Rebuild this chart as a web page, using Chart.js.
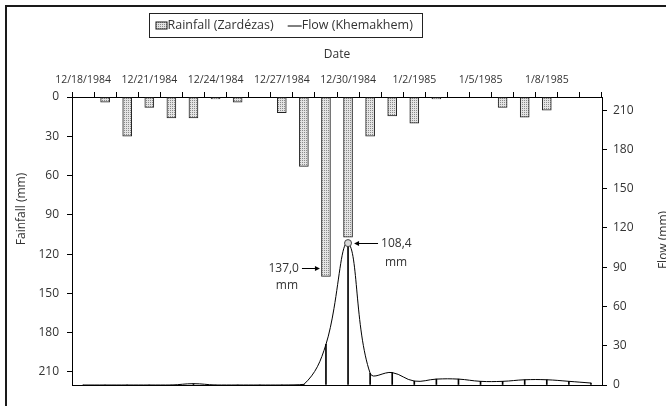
<!DOCTYPE html>
<html><head><meta charset="utf-8">
<script src="https://cdn.jsdelivr.net/npm/chart.js@4"></script>
<style>
html,body{margin:0;padding:0;background:#fff;overflow:hidden;}
#wrap{position:relative;width:666px;height:406px;overflow:hidden;}
#frame{position:absolute;left:5px;top:5px;width:700px;height:500px;border-top:2px solid #1a1a1a;border-left:2px solid #1a1a1a;pointer-events:none;}
canvas{position:absolute;left:0;top:0;}
</style></head><body>
<div id="wrap"><canvas id="c" width="666" height="406"></canvas><div id="frame"></div></div>
<script>
// ---- data ----
const categories = ['12/18/1984','12/19/1984','12/20/1984','12/21/1984','12/22/1984','12/23/1984','12/24/1984','12/25/1984','12/26/1984','12/27/1984','12/28/1984','12/29/1984','12/30/1984','12/31/1984','1/1/1985','1/2/1985','1/3/1985','1/4/1985','1/5/1985','1/6/1985','1/7/1985','1/8/1985','1/9/1985','1/10/1985'];
const rainfall = [0,4,30,8,16,16,1.5,4,0,12,53,137,107,30,14.5,20,1.5,0,0,8,15.5,10,0,0];
const flow = [0,0,0,0,0,1,0,0,0,0,0.5,31,108.4,9,9.5,3,4.5,4.5,2.8,2.8,4,4,2.8,1.5];
const xTickLabels = ['12/18/1984','12/21/1984','12/24/1984','12/27/1984','12/30/1984','1/2/1985','1/5/1985','1/8/1985'];
const yTicks = [0,30,60,90,120,150,180,210];
const seriesNames = ['Rainfall (Zardézas)','Flow (Khemakhem)'];
const axisTitles = {x:'Date', y:'Fainfall (mm)', y2:'Flow (mm)'};

const FONT = "'Open Sans', 'DejaVu Sans', sans-serif";
const TXT = '#333';
const canvas = document.getElementById('c');
const ctx0 = canvas.getContext('2d');

function makePattern(){
  const p = document.createElement('canvas'); p.width = 2; p.height = 2;
  const g = p.getContext('2d');
  g.fillStyle = '#e4e4e4'; g.fillRect(0,0,2,2);
  g.fillStyle = '#8a8a8a'; g.fillRect(0,0,1,1);
  return ctx0.createPattern(p,'repeat');
}
const pattern = makePattern();
const peakIndex = flow.indexOf(Math.max(...flow));
const fmt = v => v.toFixed(1).replace('.', ',');

function keepTicks(scale){ scale.ticks = yTicks.map(v => ({ value: v })); }

const decor = {
  id: 'decor',
  afterDraw(chart){
    const c = chart.ctx;
    c.save();
    // legend
    c.font = '12.5px ' + FONT;
    const w1 = c.measureText(seriesNames[0]).width, w2 = c.measureText(seriesNames[1]).width;
    const boxW = 6 + 12 + w1 + 14 + 14 + w2 + 10;
    const bx = Math.round(286 - boxW/2) + 0.5, by = 13.5, bh = 24;
    c.strokeStyle = '#222'; c.lineWidth = 1;
    c.strokeRect(bx, by, Math.round(boxW), bh);
    const cy = by + bh/2;
    let x = bx + 6;
    c.fillStyle = pattern; c.fillRect(x, cy-4, 12, 8);
    c.strokeStyle = '#222'; c.strokeRect(x+0.5, cy-3.5, 11, 7);
    x += 12;
    c.fillStyle = TXT; c.textBaseline = 'middle'; c.textAlign = 'left';
    c.fillText(seriesNames[0], x, cy);
    x += w1 + 14;
    c.beginPath(); c.moveTo(x, cy+0.5); c.lineTo(x+14, cy+0.5); c.strokeStyle = '#000'; c.stroke();
    x += 14;
    c.fillText(seriesNames[1], x, cy);

    // axis titles
    c.font = '12px ' + FONT; c.fillStyle = TXT; c.textAlign = 'center'; c.textBaseline = 'middle';
    c.save(); c.translate(22, 209); c.rotate(-Math.PI/2); c.fillText(axisTitles.y, 0, 0); c.restore();
    c.save(); c.translate(664, 240); c.rotate(-Math.PI/2); c.fillText(axisTitles.y2, 0, 0); c.restore();

    // annotations
    const rEl = chart.getDatasetMeta(2).data[11];
    const fEl = chart.getDatasetMeta(0).data[peakIndex];
    c.font = '12px ' + FONT; c.fillStyle = TXT; c.strokeStyle = '#000'; c.lineWidth = 1;
    function arrow(x1, y, x2){
      const dir = Math.sign(x2 - x1);
      c.beginPath(); c.moveTo(x1, y); c.lineTo(x2 - dir*4, y); c.stroke();
      c.beginPath(); c.moveTo(x2, y); c.lineTo(x2 - dir*5, y-2.5); c.lineTo(x2 - dir*5, y+2.5); c.closePath(); c.fillStyle = '#000'; c.fill();
    }
    const ry = Math.round(rEl.y - 8) + 0.5;
    arrow(rEl.x - 24, ry, rEl.x - 6);
    c.fillStyle = TXT; c.textAlign = 'right'; c.textBaseline = 'middle';
    c.fillText(fmt(rainfall[11]), rEl.x - 27, ry);
    c.textAlign = 'center'; c.fillText('mm', rEl.x - 39, ry + 17);
    const fy = Math.round(fEl.y) + 0.5;
    arrow(fEl.x + 30, fy, fEl.x + 6);
    c.fillStyle = TXT; c.textAlign = 'left';
    c.fillText(fmt(flow[peakIndex]), fEl.x + 33, fy);
    c.textAlign = 'center'; c.fillText('mm', fEl.x + 48, fy + 19);
    c.restore();
  }
};

new Chart(canvas, {
  type: 'bar',
  data: {
    labels: categories,
    datasets: [
      { type: 'line', label: seriesNames[1], data: flow, yAxisID: 'y2', order: 0,
        borderColor: '#000', borderWidth: 1, tension: 0.4, fill: false,
        pointRadius: c => c.dataIndex === peakIndex ? 3.5 : 0,
        pointBackgroundColor: '#d8d8d8', pointBorderColor: '#444', pointBorderWidth: 1 },
      { type: 'bar', label: 'drop', data: flow, yAxisID: 'y2', order: 1, grouped: false,
        barThickness: 1, backgroundColor: '#000', borderWidth: 0 },
      { type: 'bar', label: seriesNames[0], data: rainfall, yAxisID: 'y', order: 2, grouped: false,
        barThickness: 9, backgroundColor: pattern, borderColor: '#222', borderWidth: 1, borderSkipped: false }
    ]
  },
  options: {
    responsive: false, animation: false,
    layout: { padding: { top: 0, bottom: 21, left: 0, right: 0 } },
    plugins: { legend: { display: false }, tooltip: { enabled: false } },
    scales: {
      x: {
        position: 'top', offset: true,
        grid: { offset: true, drawOnChartArea: false, drawTicks: true, tickLength: 5, color: '#000' },
        border: { display: true, color: '#000', width: 1 },
        ticks: { autoSkip: false, maxRotation: 0, minRotation: 0, padding: 6, color: TXT,
          font: { family: FONT, size: 10.5 },
          callback: (v, i) => xTickLabels.includes(categories[i]) ? categories[i] : '' },
        title: { display: true, text: axisTitles.x, color: TXT, font: { family: FONT, size: 12 }, padding: { top: 47, bottom: 0 } },
        afterFit: s => { s.height = 97; }
      },
      y: {
        position: 'left', reverse: true, min: 0, max: 220,
        afterBuildTicks: keepTicks,
        grid: { drawOnChartArea: false, tickLength: 5, color: '#000' },
        border: { display: true, color: '#000', width: 1 },
        ticks: { padding: 8, color: TXT, font: { family: FONT, size: 12 } },
        afterFit: s => { s.width = 72; }
      },
      y2: {
        position: 'right', min: 0, max: 220,
        afterBuildTicks: keepTicks,
        grid: { drawOnChartArea: true, tickLength: 5, color: c => c.tick && c.tick.value === 0 ? '#000' : 'rgba(0,0,0,0)', tickColor: '#000' },
        border: { display: true, color: '#000', width: 1 },
        ticks: { padding: 6, color: TXT, font: { family: FONT, size: 12 } },
        afterFit: s => { s.width = 64; }
      }
    }
  },
  plugins: [decor]
});
</script>
</body></html>
